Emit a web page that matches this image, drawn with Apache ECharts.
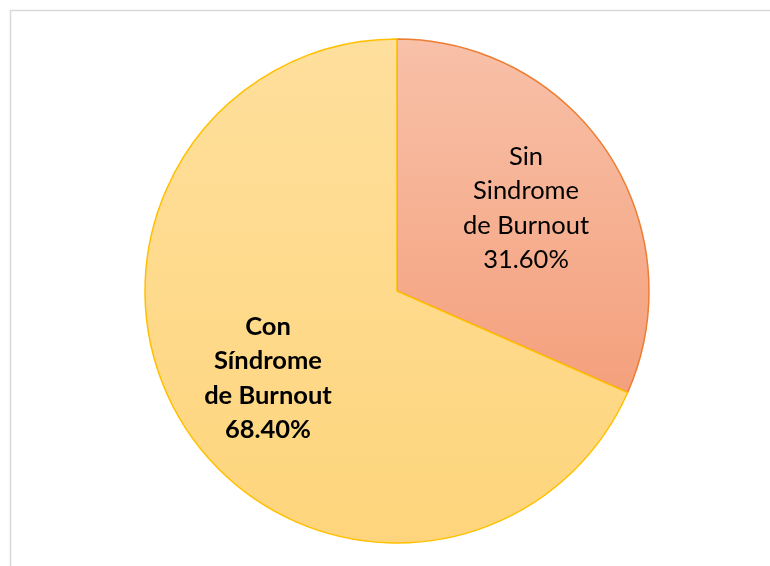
<!DOCTYPE html>
<html>
<head>
<meta charset="utf-8">
<script src="https://cdn.jsdelivr.net/npm/echarts@6/dist/echarts.min.js"></script>
<style>
  html, body { margin: 0; padding: 0; background: #fff; }
  #chart { width: 770px; height: 566px; }
</style>
</head>
<body>
<div id="chart"></div>
<script>
// categories and values
const categories = ["Sin\nSindrome\nde Burnout", "Con\nSíndrome\nde Burnout"];
const percents = [31.6, 68.4];

// gradient fills / borders (Excel-style)
const topColors = ["#f8c1a9", "#fedf9c"];
const bottomColors = ["#f4a07c", "#fed57c"];
const borderColors = ["#ed7d31", "#ffc000"];
const boldLabel = [false, true];
// small nudges so the labels sit where the original puts them
const labelShift = [[21, -12], [-21, 17]];

let myChart = echarts.init(document.getElementById("chart"));
myChart.setOption({
  animation: false,
  graphic: [
    {
      type: "rect",
      shape: { x: 10.5, y: 10.5, width: 800, height: 600 },
      style: { fill: "none", stroke: "#d9d9d9", lineWidth: 1.5 },
      silent: true
    }
  ],
  series: [
    {
      type: "pie",
      center: [397, 291],
      radius: 252,
      startAngle: 90,
      clockwise: true,
      label: {
        show: true,
        position: "inside",
        fontFamily: "Lato",
        fontSize: 25.5,
        lineHeight: 34.5,
        color: "#000",
        align: "center",
        formatter: function (p) {
          return p.name + "\n" + p.value.toFixed(2) + "%";
        }
      },
      labelLayout: function (params) {
        return { dx: labelShift[params.dataIndex][0], dy: labelShift[params.dataIndex][1] };
      },
      labelLine: { show: false },
      emphasis: { disabled: true },
      data: categories.map(function (name, i) {
        return {
          name: name,
          value: percents[i],
          label: { fontWeight: boldLabel[i] ? "bold" : "normal" },
          itemStyle: {
            color: {
              type: "linear",
              x: 0, y: 0, x2: 0, y2: 1,
              colorStops: [
                { offset: 0, color: topColors[i] },
                { offset: 1, color: bottomColors[i] }
              ]
            },
            borderColor: borderColors[i],
            borderWidth: 1.5
          }
        };
      })
    }
  ]
});
</script>
</body>
</html>
